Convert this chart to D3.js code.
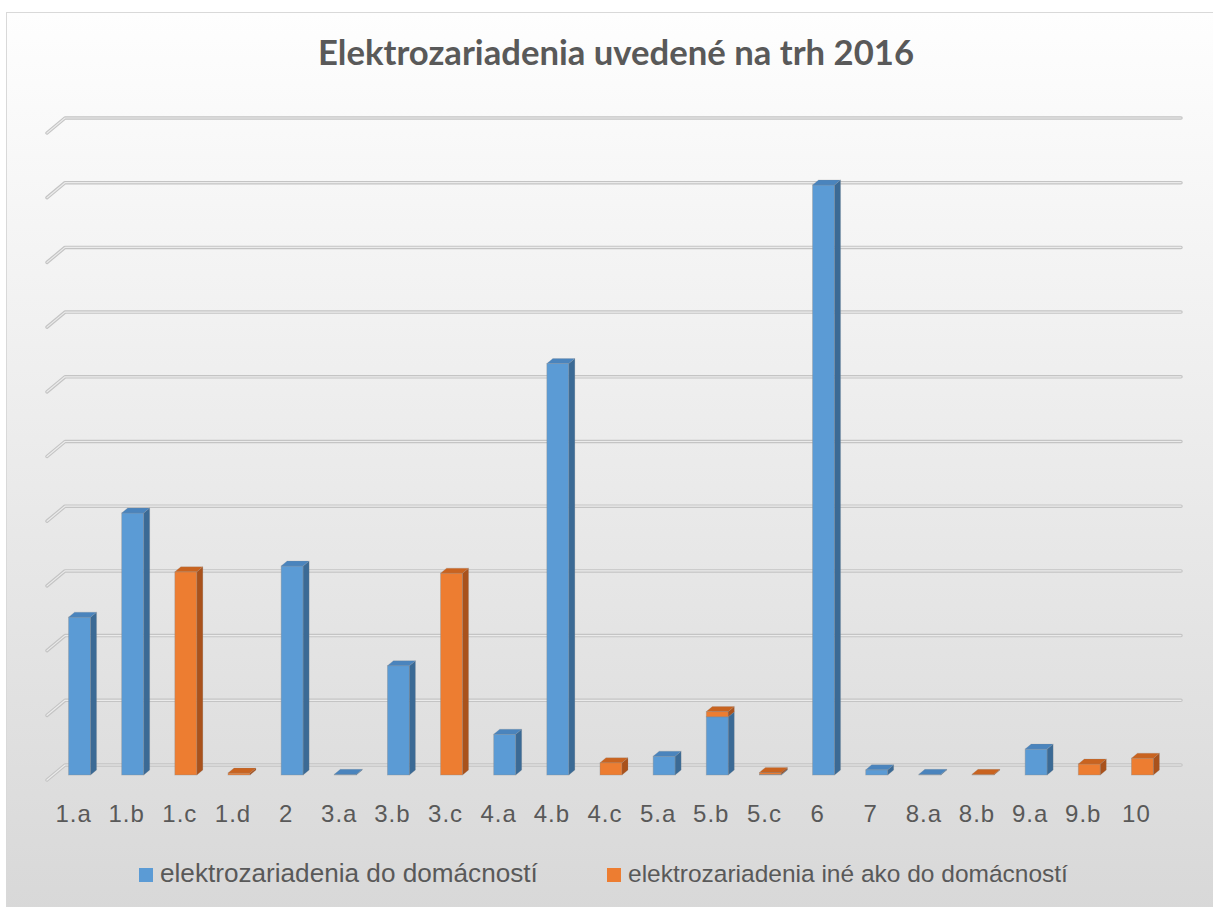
<!DOCTYPE html>
<html>
<head>
<meta charset="utf-8">
<script src="https://cdn.jsdelivr.net/npm/d3@7"></script>
<style>
  body { margin: 0; background: #ffffff; }
  svg { display: block; }
</style>
</head>
<body>
<div id="chart"></div>
<script>
var chartTitle = "Elektrozariadenia uvedené na trh 2016";

var categories = [ "1.a", "1.b", "1.c", "1.d", "2", "3.a", "3.b", "3.c",
    "4.a", "4.b", "4.c", "5.a", "5.b", "5.c", "6", "7", "8.a", "8.b",
    "9.a", "9.b", "10" ];

var seriesNames = [ "elektrozariadenia do domácností",
    "elektrozariadenia iné ako do domácností" ];

// in gridline units (no value axis is shown)
var householdValues = [ 2.44, 4.05, 0, 0, 3.23, 0.01, 1.69, 0,
    0.63, 6.36, 0, 0.29, 0.90, 0.01, 9.12, 0.08, 0.01, 0,
    0.40, 0, 0 ];
var otherValues = [ 0, 0, 3.14, 0.03, 0, 0, 0, 3.12,
    0, 0, 0.19, 0, 0.08, 0.03, 0, 0, 0, 0.01,
    0, 0.17, 0.26 ];

var gridTicks = [ 0, 1, 2, 3, 4, 5, 6, 7, 8, 9, 10 ];

var colors = [
    { front: "#5b9bd5", side: "#3b6a95", top: "#4a84bd" },
    { front: "#ed7d31", side: "#a9521c", top: "#c9631f" }
];

var W = 1213, H = 907;
var floorLeft = 47, floorRight = 1163, floorFrontY = 780;
var depthX = 18, depthY = -15;       // full floor depth
var barOffX = 6, barOffY = -5;       // bar front face sits 1/3 deep
var plotHeight = 647;

var svg = d3.select("#chart").append("svg")
    .attr("width", W)
    .attr("height", H);

// background
var grad = svg.append("defs").append("linearGradient")
    .attr("id", "bg").attr("x1", 0).attr("y1", 0).attr("x2", 0).attr("y2", 1);
grad.append("stop").attr("offset", "0%").attr("stop-color", "#fefefe");
grad.append("stop").attr("offset", "100%").attr("stop-color", "#d8d8d8");

svg.append("rect")
    .attr("x", 6.5).attr("y", 12.5)
    .attr("width", 1210).attr("height", 900)
    .attr("fill", "url(#bg)")
    .attr("stroke", "#d9d9d9")
    .attr("stroke-width", 1);

var x = d3.scaleBand()
    .domain(categories)
    .range([floorLeft, floorRight])
    .paddingInner(0.586)
    .paddingOuter(0.293);

var y = d3.scaleLinear()
    .domain([0, 10])
    .range([0, plotHeight]);

// gridlines: back wall + side stub
var backY = floorFrontY + depthY;
var gridPath = function (t) {
    var yb = backY - y(t);
    return "M" + floorLeft + "," + (floorFrontY - y(t)) +
        "L" + (floorLeft + depthX) + "," + yb +
        "L" + (floorRight + depthX) + "," + yb;
};

var grid = svg.append("g").attr("class", "grid");
grid.selectAll("path.outer")
    .data(gridTicks).enter().append("path")
    .attr("class", "outer")
    .attr("d", gridPath)
    .attr("fill", "none")
    .attr("stroke", "#c4c4c4")
    .attr("stroke-width", 3.5)
    .attr("stroke-linecap", "round")
    .attr("stroke-linejoin", "round");
grid.selectAll("path.inner")
    .data(gridTicks).enter().append("path")
    .attr("class", "inner")
    .attr("d", gridPath)
    .attr("fill", "none")
    .attr("stroke", "#ebebeb")
    .attr("stroke-width", 1.2)
    .attr("stroke-linecap", "round")
    .attr("stroke-linejoin", "round");

// stacked 3D columns
var rows = categories.map(function (c, i) {
    return { cat: c, s0: householdValues[i], s1: otherValues[i] };
});
var stacked = d3.stack().keys(["s0", "s1"])(rows);

var bw = x.bandwidth();
var zeroY = floorFrontY + barOffY;

var bars = svg.append("g").attr("class", "bars");
categories.forEach(function (c, i) {
    stacked.forEach(function (layer, k) {
        var d = layer[i];
        if (d[1] - d[0] <= 0) return;
        var x0 = x(c) + barOffX;
        var yTop = zeroY - y(d[1]);
        var yBot = zeroY - y(d[0]);
        var col = colors[k];
        var g = bars.append("g");
        g.append("rect")
            .attr("x", x0).attr("y", yTop)
            .attr("width", bw).attr("height", Math.max(0.6, yBot - yTop))
            .attr("fill", col.front)
            .attr("stroke", "rgba(140,140,140,0.45)")
            .attr("stroke-width", 0.8);
        g.append("path")
            .attr("d", "M" + (x0 + bw) + "," + yTop +
                "L" + (x0 + bw + barOffX) + "," + (yTop + barOffY) +
                "L" + (x0 + bw + barOffX) + "," + (yBot + barOffY) +
                "L" + (x0 + bw) + "," + yBot + "Z")
            .attr("fill", col.side)
            .attr("stroke", "rgba(140,140,140,0.35)")
            .attr("stroke-width", 0.6);
        g.append("path")
            .attr("d", "M" + x0 + "," + yTop +
                "L" + (x0 + barOffX) + "," + (yTop + barOffY) +
                "L" + (x0 + bw + barOffX) + "," + (yTop + barOffY) +
                "L" + (x0 + bw) + "," + yTop + "Z")
            .attr("fill", col.top)
            .attr("stroke", "rgba(140,140,140,0.35)")
            .attr("stroke-width", 0.6);
    });
});

// fit text to a measured width
function fitWidth (sel, target) {
    var fs = parseFloat(sel.attr("font-size"));
    var w = sel.node().getComputedTextLength();
    if (w > 0) sel.attr("font-size", (fs * target / w).toFixed(2));
}

// category labels
svg.append("g").selectAll("text")
    .data(categories).enter().append("text")
    .attr("x", function (c) { return x(c) + bw / 2; })
    .attr("y", 822)
    .attr("text-anchor", "middle")
    .attr("font-family", "'Liberation Sans', Arial, sans-serif")
    .attr("font-size", 24)
    .attr("letter-spacing", 1)
    .attr("fill", "#595959")
    .text(function (c) { return c; });

// title
var title = svg.append("text")
    .attr("x", 616).attr("y", 65)
    .attr("text-anchor", "middle")
    .attr("font-family", "Lato, 'Open Sans', sans-serif")
    .attr("font-weight", "bold")
    .attr("font-size", 28)
    .attr("fill", "#595959")
    .text(chartTitle);
fitWidth(title, 596);

// legend
var legendX = [139, 607], legendW = [378, 440];
seriesNames.forEach(function (name, k) {
    svg.append("rect")
        .attr("x", legendX[k]).attr("y", 868)
        .attr("width", 14).attr("height", 14)
        .attr("fill", colors[k].front);
    var t = svg.append("text")
        .attr("x", legendX[k] + 21).attr("y", 882)
        .attr("font-family", "'Liberation Sans', Arial, sans-serif")
        .attr("font-size", 25)
        .attr("fill", "#595959")
        .text(name);
    fitWidth(t, legendW[k]);
});
</script>
</body>
</html>
